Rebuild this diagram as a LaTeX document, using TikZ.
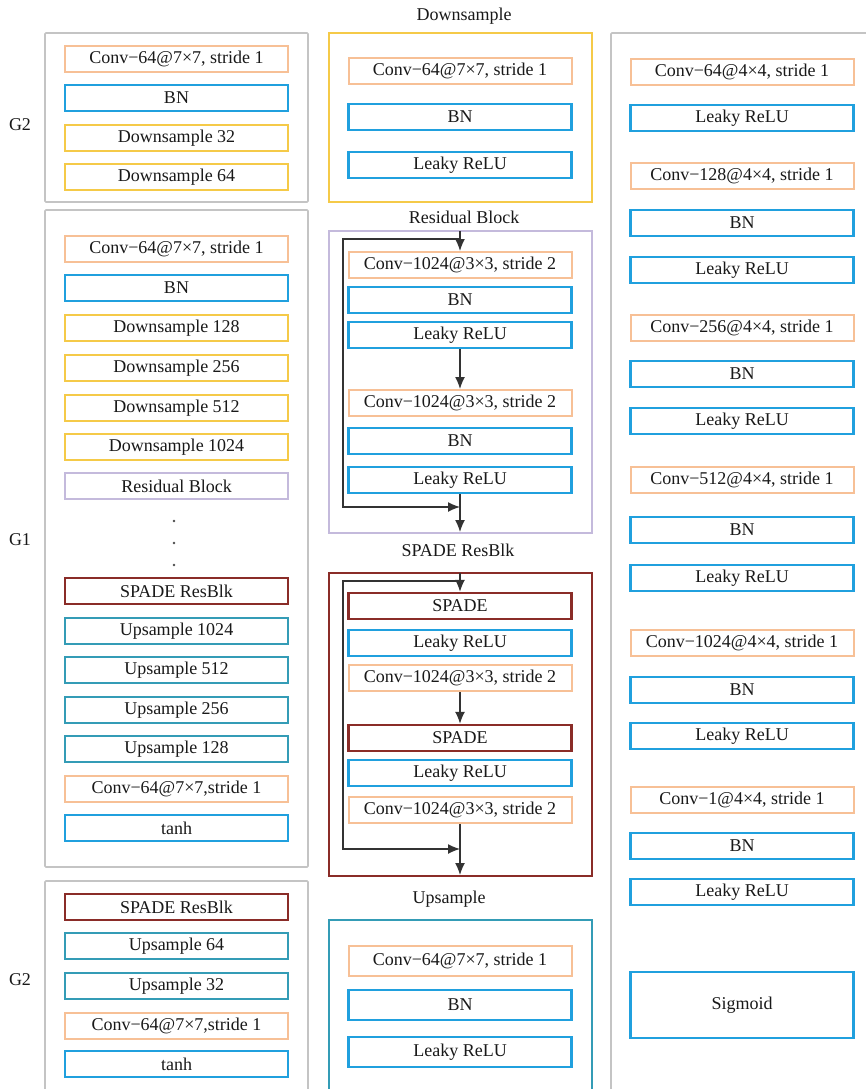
\documentclass[tikz,border=0pt]{standalone}
\usepackage{fontspec}
\setmainfont{Liberation Serif}
\usepackage{tikz}
\usetikzlibrary{shapes,arrows.meta}

\definecolor{convc}{RGB}{247,192,150}
\definecolor{bnc}{RGB}{32,160,222}
\definecolor{downc}{RGB}{245,202,72}
\definecolor{resc}{RGB}{196,186,220}
\definecolor{spadec}{RGB}{138,44,40}
\definecolor{upc}{RGB}{52,156,182}
\definecolor{panelc}{RGB}{196,196,196}
\definecolor{txtc}{RGB}{25,25,25}

\tikzset{
  lay/.style={draw, rectangle, minimum width=223pt, minimum height=26pt, inner sep=0pt, text=txtc, font=\fontsize{18}{20}\selectfont},
  conv/.style={lay, draw=convc, line width=2pt},
  bn/.style={lay, draw=bnc, line width=2.6pt},
  down/.style={lay, draw=downc, line width=2.4pt},
  resb/.style={lay, draw=resc, line width=2.2pt},
  spade/.style={lay, draw=spadec, line width=2.4pt},
  up/.style={lay, draw=upc, line width=2.4pt},
  panel/.style={draw=panelc, line width=1.6pt, rounded corners=1pt},
  title/.style={text=txtc, font=\fontsize{18}{20}\selectfont},
  arr/.style={draw=black!80, line width=1.4pt, -{Latex[length=12pt,width=10pt]}},
  link/.style={draw=black!80, line width=1.4pt}
}

\begin{document}
\begin{tikzpicture}[x=1pt,y=-1pt]
\clip (0,0) rectangle (866,1089);
\fill[white] (0,0) rectangle (866,1089);

% left column: generator
\draw[panel] (45,33) rectangle (308,202);
\draw[panel] (45,210) rectangle (308,867);
\draw[panel] (45,881) rectangle (308,1120);
\node[title] (g2a) at (20,125) {G2};
\node[title] (g1) at (20,540) {G1};
\node[title] (g2b) at (20,980) {G2};

\node[conv] (ac1) at (176.5,59) {Conv−64@7×7, stride 1};
\node[bn] (abn) at (176.5,98) {BN};
\node[down] (ad32) at (176.5,138) {Downsample 32};
\node[down] (ad64) at (176.5,177) {Downsample 64};

\node[conv] (bc1) at (176.5,249) {Conv−64@7×7, stride 1};
\node[bn] (bbn) at (176.5,288) {BN};
\node[down] (bd128) at (176.5,328) {Downsample 128};
\node[down] (bd256) at (176.5,368) {Downsample 256};
\node[down] (bd512) at (176.5,408) {Downsample 512};
\node[down] (bd1024) at (176.5,447) {Downsample 1024};
\node[resb] (bres) at (176.5,486) {Residual Block};
\fill[black!70] (174,521) circle(1.3) (174,543) circle(1.3) (174,565) circle(1.3);
\node[spade] (bsp) at (176.5,591) {SPADE ResBlk};
\node[up] (bu1024) at (176.5,631) {Upsample 1024};
\node[up] (bu512) at (176.5,670) {Upsample 512};
\node[up] (bu256) at (176.5,710) {Upsample 256};
\node[up] (bu128) at (176.5,749) {Upsample 128};
\node[conv] (bc2) at (176.5,789) {Conv−64@7×7,stride 1};
\node[bn] (btanh) at (176.5,828) {tanh};

\node[spade] (csp) at (176.5,907) {SPADE ResBlk};
\node[up] (cu64) at (176.5,946) {Upsample 64};
\node[up] (cu32) at (176.5,986) {Upsample 32};
\node[conv] (cc1) at (176.5,1026) {Conv−64@7×7,stride 1};
\node[bn] (ctanh) at (176.5,1064) {tanh};

% middle column: blocks
\node[title] (tdown) at (464,16) {Downsample};
\draw[draw=downc, line width=2.4pt] (329,33) rectangle (592,202);
\node[conv] (dc) at (460,71) {Conv−64@7×7, stride 1};
\node[bn] (dbn) at (460,117) {BN};
\node[bn] (dlr) at (460,165) {Leaky ReLU};

\node[title] (tres) at (464,217) {Residual Block};
\draw[draw=resc, line width=2.2pt] (329,231) rectangle (592,533);
\node[conv] (rc1) at (460,265) {Conv−1024@3×3, stride 2};
\node[bn] (rbn1) at (460,300) {BN};
\node[bn] (rlr1) at (460,335) {Leaky ReLU};
\node[conv] (rc2) at (460,403) {Conv−1024@3×3, stride 2};
\node[bn] (rbn2) at (460,441) {BN};
\node[bn] (rlr2) at (460,480) {Leaky ReLU};
\coordinate (rin) at (460,231);
\coordinate (rsplit) at (460,239);
\coordinate (rjoin) at (460,507);
\coordinate (rout) at (460,532);
\draw[arr] (rin) -- (rc1.north);
\draw[arr] (rsplit) -- (343,239) |- (rjoin);
\draw[arr] (rlr1.south) -- (rc2.north);
\draw[arr] (rlr2.south) -- (rout);

\node[title] (tspade) at (458,550) {SPADE ResBlk};
\draw[draw=spadec, line width=2.4pt] (329,573) rectangle (592,876);
\node[spade] (ss1) at (460,606) {SPADE};
\node[bn] (slr1) at (460,643) {Leaky ReLU};
\node[conv] (sc1) at (460,678) {Conv−1024@3×3, stride 2};
\node[spade] (ss2) at (460,738) {SPADE};
\node[bn] (slr2) at (460,773) {Leaky ReLU};
\node[conv] (sc2) at (460,810) {Conv−1024@3×3, stride 2};
\coordinate (sin) at (460,573);
\coordinate (ssplit) at (460,581);
\coordinate (sjoin) at (460,849);
\coordinate (sout) at (460,875);
\draw[arr] (sin) -- (ss1.north);
\draw[arr] (ssplit) -- (343,581) |- (sjoin);
\draw[arr] (sc1.south) -- (ss2.north);
\draw[arr] (sc2.south) -- (sout);

\node[title] (tup) at (449,899) {Upsample};
\draw[draw=upc, line width=2.2pt] (329,920) rectangle (592,1120);
\node[conv, minimum height=30pt] (uc) at (460,961) {Conv−64@7×7, stride 1};
\node[bn, minimum height=30pt] (ubn) at (460,1005) {BN};
\node[bn, minimum height=30pt] (ulr) at (460,1052) {Leaky ReLU};

% right column: discriminator
\draw[panel] (611,33) rectangle (900,1120);
\node[conv] (ec1) at (742,72) {Conv−64@4×4, stride 1};
\node[bn] (elr1) at (742,118) {Leaky ReLU};
\node[conv] (ec2) at (742,176) {Conv−128@4×4, stride 1};
\node[bn] (ebn2) at (742,223) {BN};
\node[bn] (elr2) at (742,270) {Leaky ReLU};
\node[conv] (ec3) at (742,328) {Conv−256@4×4, stride 1};
\node[bn] (ebn3) at (742,374) {BN};
\node[bn] (elr3) at (742,421) {Leaky ReLU};
\node[conv] (ec4) at (742,480) {Conv−512@4×4, stride 1};
\node[bn] (ebn4) at (742,530) {BN};
\node[bn] (elr4) at (742,578) {Leaky ReLU};
\node[conv] (ec5) at (742,643) {Conv−1024@4×4, stride 1};
\node[bn] (ebn5) at (742,690) {BN};
\node[bn] (elr5) at (742,736) {Leaky ReLU};
\node[conv] (ec6) at (742,800) {Conv−1@4×4, stride 1};
\node[bn] (ebn6) at (742,846) {BN};
\node[bn] (elr6) at (742,892) {Leaky ReLU};
\node[bn, minimum height=66pt] (esig) at (742,1005) {Sigmoid};
\end{tikzpicture}
\end{document}
